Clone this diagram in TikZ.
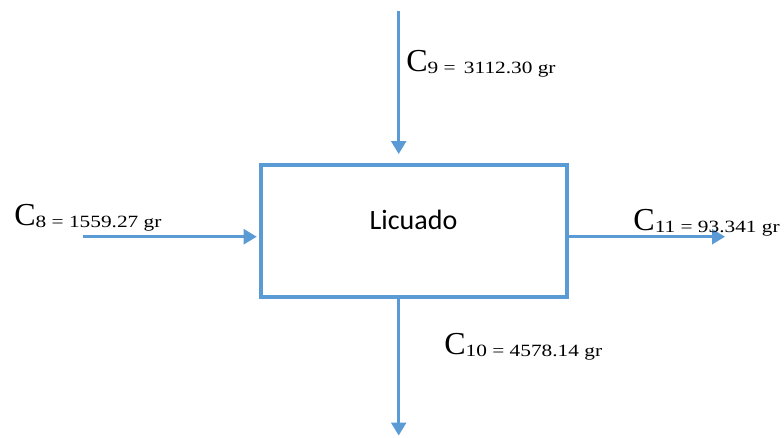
\documentclass[tikz,border=0pt]{standalone}
\usepackage{fontspec}
\setmainfont{Liberation Serif}
\newfontfamily\streamfont[FakeStretch=1.24]{Liberation Serif}
\newfontfamily\boxfont{Carlito}
\usepackage{tikz}
\usetikzlibrary{arrows.meta}

\definecolor{licblue}{HTML}{5B9BD5}
\newcommand{\corr}[2]{{\fontsize{32}{32}\selectfont\raisebox{2pt}{C}}{\streamfont\fontsize{17.2}{17.2}\selectfont #1 = #2}}

\tikzset{
    flow/.style={draw=licblue, line width=2.5pt, -{Triangle[length=13pt, width=15pt]}},
    stream/.style={anchor=base west, inner sep=0pt},
}

\begin{document}
\begin{tikzpicture}[x=1pt, y=-1pt]

    \useasboundingbox (0,0) rectangle (784,437);

    \node[draw=licblue, line width=4pt, minimum width=306.3pt, minimum height=132.2pt,
    inner sep=0pt] (box) at (413.85, 230.6) {};
    \node[anchor=base, inner sep=0pt] (lbl) at (413.5, 229) {\boxfont\fontsize{28}{28}\selectfont Licuado};

    \coordinate (c9in) at (398.7, 11);
    \coordinate (c8in) at (83, 236.7);
    \coordinate (c11out) at (725, 236.7);
    \coordinate (c10out) at (398.7, 435.5);

    \draw[flow, shorten >=8.5pt] (c9in) -- (box.north -| c9in);
    \draw[flow, shorten >=2pt] (c8in) -- (box.west |- c8in);
    \draw[flow] (box.east |- c11out) -- (c11out);
    \draw[flow] (box.south -| c10out) -- (c10out);

    \node[stream] (c9) at (406.2, 73) {\corr{9}{\,3112.30 gr}};
    \node[stream] (c8) at (14.2, 227.5) {\corr{8}{1559.27 gr}};
    \node[stream] (c11) at (633.2, 232) {\corr{11}{93.341 gr}};
    \node[stream] (c10) at (444.2, 356.5) {\corr{10}{4578.14 gr}};

\end{tikzpicture}
\end{document}
